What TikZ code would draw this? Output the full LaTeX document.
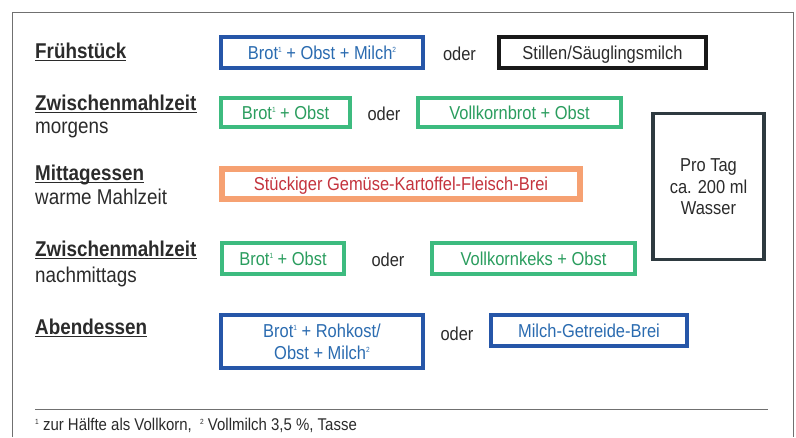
\documentclass[tikz,border=0pt]{standalone}
\usepackage{fontspec}
\setmainfont{Liberation Sans}[FakeStretch=0.88]

% small raised footnote markers
\newcommand\supnum[1]{\raisebox{0.36em}{\fontsize{7.5}{7.5}\selectfont #1}}

\definecolor{labelgray}{HTML}{2B2B2B}
\definecolor{framegray}{HTML}{707070}
\definecolor{boxblue}{HTML}{2656A8}
\definecolor{textblue}{HTML}{2A6BB0}
\definecolor{boxgreen}{HTML}{3DBB7F}
\definecolor{textgreen}{HTML}{2A9D5E}
\definecolor{boxorange}{HTML}{F6A172}
\definecolor{textred}{HTML}{C4333D}
\definecolor{boxdark}{HTML}{2E3A40}

\begin{document}
\begin{tikzpicture}[x=1pt,y=-1pt,
  lbl/.style={anchor=base west, inner sep=0pt, text=labelgray,
    font=\fontsize{21.4}{24}\selectfont},
  lblhead/.style={lbl, font=\bfseries\fontsize{21.4}{24}\selectfont},
  uline/.style={draw=labelgray, line width=1.4pt},
  meal/.style={draw, fill=white, inner sep=0pt,
    font=\fontsize{18.7}{22}\selectfont, text height=13.4pt, text depth=0pt},
  mealtwo/.style={draw, fill=white, inner sep=0pt, align=center,
    font=\fontsize{18.7}{22}\selectfont, text height=35.4pt, text depth=0pt},
  mealthree/.style={draw, fill=white, inner sep=0pt, align=center,
    font=\fontsize{18.7}{21.7}\selectfont, text height=56.8pt, text depth=0pt},
  bluebox/.style={draw=boxblue, text=textblue, line width=4pt},
  greenbox/.style={draw=boxgreen, text=textgreen, line width=4pt},
  orangebox/.style={draw=boxorange, text=textred, line width=6pt},
  blackbox/.style={draw=black!90, text=labelgray, line width=4pt},
  darkbox/.style={draw=boxdark, text=labelgray, line width=3.5pt},
  alt/.style={inner sep=0pt, text=labelgray,
    font=\fontsize{18.7}{22}\selectfont, text height=13.4pt, text depth=0pt},
]
\useasboundingbox (0,0) rectangle (796,437);

% outer frame, open at the bottom
\coordinate (fbl) at (12,437);
\coordinate (ftr) at (793,12);
\coordinate (fbr) at (793,437);
\draw[framegray, line width=1pt] (fbl) |- (ftr) -- (fbr);

% meal labels
\node[lblhead] (l1) at (35,58) {Frühstück};
\node[lblhead] (l2) at (35,110) {Zwischenmahlzeit};
\node[lbl] (l2b) at (35,133) {morgens};
\node[lblhead] (l3) at (35,180) {Mittagessen};
\node[lbl] (l3b) at (35,204) {warme Mahlzeit};
\node[lblhead] (l4) at (35,256) {Zwischenmahlzeit};
\node[lbl] (l4b) at (35,282.5) {nachmittags};
\node[lblhead] (l5) at (35,334) {Abendessen};
\foreach \n in {l1,l2,l3,l4,l5}
  \draw[uline] ([yshift=-2.6pt]\n.base west) -- ([yshift=-2.6pt]\n.base east);

% Frühstück
\node[meal, bluebox, minimum width=202pt, minimum height=31pt] (b1) at (322,52.5)
  {Brot\supnum{1} + Obst + Milch\supnum{2}};
\node[alt] (o1) at (459.5,54) {oder};
\node[meal, blackbox, minimum width=207pt, minimum height=31pt] (b2) at (602.5,52.5)
  {Stillen/Säuglingsmilch};

% Zwischenmahlzeit morgens
\node[meal, greenbox, minimum width=129pt, minimum height=29pt] (g1) at (285.5,112.5)
  {Brot\supnum{1} + Obst};
\node[alt] (o2) at (384,114) {oder};
\node[meal, greenbox, minimum width=203pt, minimum height=29pt] (g2) at (519.5,112.5)
  {Vollkornbrot + Obst};

% Mittagessen
\node[meal, orangebox, minimum width=358pt, minimum height=30pt] (r1) at (401,183.5)
  {Stückiger Gemüse-Kartoffel-Fleisch-Brei};

% water per day
\node[mealthree, darkbox, minimum width=111pt, minimum height=146pt] (w1) at (708.5,186.5)
  {Pro Tag\\ca. 200 ml\\Wasser};

% Zwischenmahlzeit nachmittags
\node[meal, greenbox, minimum width=122pt, minimum height=31pt] (g3) at (283,258.5)
  {Brot\supnum{1} + Obst};
\node[alt] (o3) at (388,260) {oder};
\node[meal, greenbox, minimum width=203pt, minimum height=31pt] (g4) at (533.5,258.5)
  {Vollkornkeks + Obst};

% Abendessen
\node[mealtwo, bluebox, minimum width=202pt, minimum height=53pt] (b3) at (322,341.5)
  {Brot\supnum{1} + Rohkost/\\Obst + Milch\supnum{2}};
\node[alt] (o4) at (457,334) {oder};
\node[meal, bluebox, minimum width=196pt, minimum height=31pt] (b4) at (589,330.5)
  {Milch-Getreide-Brei};

% footnotes
\coordinate (rl) at (35,409);
\coordinate (rr) at (768,409);
\draw[framegray, line width=1pt] (rl) -- (rr);
\node[lbl, font=\fontsize{17}{19}\selectfont] (fn) at (35,430.5)
  {\supnum{1} zur Hälfte als Vollkorn,\ \ \supnum{2} Vollmilch 3,5 \%, Tasse};
\end{tikzpicture}
\end{document}
